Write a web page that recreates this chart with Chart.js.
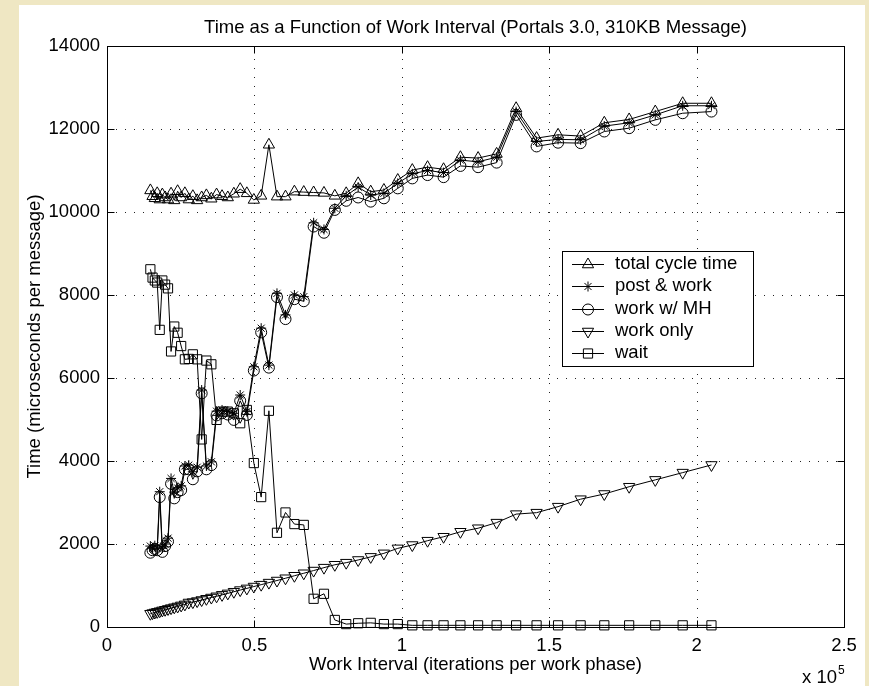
<!DOCTYPE html>
<html>
<head>
<meta charset="utf-8">
<title>Time as a Function of Work Interval</title>
<script src="https://cdn.jsdelivr.net/npm/chart.js@4.4.1/dist/chart.umd.min.js"></script>
<style>
    html, body { margin: 0; padding: 0; background: #EFE7C3; }
    body { width: 869px; height: 686px; position: relative; overflow: hidden; }
    #wrap { position: absolute; left: 19px; top: 5px; width: 846px; height: 681px; background: #FFFFFF; }
    canvas { display: block; }
</style>
</head>
<body>
<div id="wrap"><canvas id="workChart" width="846" height="681"></canvas></div>
<script>
// Work interval, in units of 10^5 iterations per work phase
const workInterval = [
    0.1471, 0.1545, 0.1622, 0.1703, 0.1788, 0.1877, 0.1971, 0.2070, 0.2173, 0.2282,
    0.2396, 0.2516, 0.2642, 0.2774, 0.2912, 0.3058, 0.3211, 0.3371, 0.3540, 0.3717,
    0.3903, 0.4098, 0.4303, 0.4518, 0.4744, 0.4981, 0.5230, 0.5492, 0.5766, 0.6055,
    0.6357, 0.6675, 0.7009, 0.7360, 0.7728, 0.8114, 0.8520, 0.8946, 0.9393, 0.9863,
    1.0356, 1.0874, 1.1417, 1.1988, 1.2588, 1.3217, 1.3878, 1.4572, 1.5301, 1.6066,
    1.6869, 1.7712, 1.8598, 1.9528, 2.0504
];

// microseconds per message
const totalCycle = [
    10520, 10380, 10330, 10450, 10300, 10420, 10350, 10300, 10440, 10280,
    10500, 10350, 10450, 10300, 10380, 10280, 10350, 10400, 10320, 10420,
    10380, 10350, 10440, 10550, 10450, 10290, 10390, 11620, 10370, 10370,
    10490, 10480, 10470, 10460, 10390, 10450, 10690, 10490, 10530, 10770,
    11010, 11080, 11030, 11320, 11300, 11400, 12500, 11780, 11860, 11830,
    12150, 12230, 12420, 12620, 12620
];
const postWork = [
    1950, 1900, 1960, 1900, 3260, 1900, 2000, 2140, 3580, 3250,
    3350, 3400, 3880, 3900, 3740, 3850, 5710, 3880, 3980, 5200,
    5230, 5200, 5150, 5590, 5190, 6270, 7200, 6310, 8040, 7520,
    8000, 7960, 9740, 9580, 10090, 10390, 10600, 10410, 10450, 10690,
    10920, 11000, 10950, 11250, 11210, 11320, 12420, 11700, 11750, 11740,
    12070, 12150, 12340, 12560, 12560
];
const workMH = [
    1790, 1850, 1880, 1850, 3130, 1810, 1950, 2060, 3450, 3100,
    3250, 3300, 3800, 3800, 3560, 3750, 5630, 3800, 3900, 5100,
    5150, 5120, 4990, 5450, 5110, 6180, 7100, 6250, 7950, 7420,
    7900, 7850, 9650, 9500, 10050, 10270, 10350, 10250, 10330, 10570,
    10810, 10890, 10840, 11110, 11080, 11190, 12340, 11580, 11670, 11660,
    11940, 12020, 12220, 12380, 12420
];
const workOnly = [
    320, 335, 350, 365, 380, 400, 415, 435, 455, 475,
    495, 520, 545, 590, 600, 625, 650, 680, 710, 740,
    775, 810, 850, 890, 930, 975, 1020, 1070, 1120, 1175,
    1235, 1295, 1360, 1430, 1500, 1550, 1615, 1690, 1775, 1895,
    1975, 2080, 2175, 2295, 2380, 2515, 2720, 2755, 2900, 3080,
    3205, 3380, 3545, 3720, 3905
];
const waitTime = [
    8620, 8420, 8350, 8300, 7160, 8350, 8250, 8160, 6640, 7240,
    7090, 6770, 6450, 6460, 6570, 6450, 4520, 6420, 6330, 4990,
    5190, 5190, 5150, 4910, 5230, 3950, 3130, 5210, 2270, 2760,
    2480, 2460, 680, 800, 170, 70, 90, 100, 70, 70,
    40, 40, 40, 40, 40, 40, 40, 40, 40, 40,
    40, 40, 40, 40, 40
];

const seriesLabels = ['total cycle time', 'post & work', 'work w/ MH', 'work only', 'wait'];
const xTicks = [0, 0.5, 1, 1.5, 2, 2.5];
const yTicks = [0, 2000, 4000, 6000, 8000, 10000, 12000, 14000];

const FONT = '"Liberation Sans", Arial, Helvetica, sans-serif';
const FONT_SIZE = 18.5;

// marker per series, MATLAB style (open black markers)
const MARKERS = [
    { pointStyle: 'triangle', radius: 6.5, rotation: 0 },
    { pointStyle: 'star', radius: 5, rotation: 0 },
    { pointStyle: 'circle', radius: 5.5, rotation: 0 },
    { pointStyle: 'triangle', radius: 6.5, rotation: 180 },
    { pointStyle: 'rect', radius: 6.5, rotation: 0 }
];

function toPoints(values) {
    return values.map((v, i) => ({ x: workInterval[i], y: v }));
}

const allSeries = [totalCycle, postWork, workMH, workOnly, waitTime];

const datasets = allSeries.map((values, i) => ({
    label: seriesLabels[i],
    data: toPoints(values),
    showLine: true,
    borderColor: '#000000',
    borderWidth: 1,
    tension: 0,
    pointStyle: MARKERS[i].pointStyle,
    pointRadius: MARKERS[i].radius,
    pointRotation: MARKERS[i].rotation,
    pointBorderColor: '#000000',
    pointBackgroundColor: 'rgba(0,0,0,0)',
    pointBorderWidth: 1,
    clip: false
}));

// dotted grid, boxed axes with inward ticks, legend and titles
const matlabFrame = {
    id: 'matlabFrame',
    beforeDatasetsDraw(chart) {
        const { ctx, chartArea: a, scales: { x, y } } = chart;
        ctx.save();
        ctx.strokeStyle = '#222222';
        ctx.lineWidth = 1;
        ctx.setLineDash([1, 8]);
        xTicks.slice(1, -1).forEach(t => {
            const px = Math.round(x.getPixelForValue(t)) + 0.5;
            ctx.beginPath();
            ctx.moveTo(px, a.bottom);
            ctx.lineTo(px, a.top);
            ctx.stroke();
        });
        yTicks.slice(1, -1).forEach(t => {
            const py = Math.round(y.getPixelForValue(t)) + 0.5;
            ctx.beginPath();
            ctx.moveTo(a.left, py);
            ctx.lineTo(a.right, py);
            ctx.stroke();
        });
        ctx.restore();
    },
    afterDatasetsDraw(chart) {
        const { ctx, chartArea: a, scales: { x, y } } = chart;
        const L = Math.round(a.left) + 0.5, R = Math.round(a.right) + 0.5;
        const T = Math.round(a.top) + 0.5, B = Math.round(a.bottom) + 0.5;
        const tick = 7;
        ctx.save();
        ctx.strokeStyle = '#000000';
        ctx.lineWidth = 1;
        ctx.strokeRect(L, T, R - L, B - T);
        ctx.beginPath();
        xTicks.forEach(t => {
            const px = Math.round(x.getPixelForValue(t)) + 0.5;
            ctx.moveTo(px, B); ctx.lineTo(px, B - tick);
            ctx.moveTo(px, T); ctx.lineTo(px, T + tick);
        });
        yTicks.forEach(t => {
            const py = Math.round(y.getPixelForValue(t)) + 0.5;
            ctx.moveTo(L, py); ctx.lineTo(L + tick, py);
            ctx.moveTo(R, py); ctx.lineTo(R - tick, py);
        });
        ctx.stroke();
        ctx.restore();
    },
    afterDraw(chart) {
        const { ctx, chartArea: a } = chart;
        const cx = (a.left + a.right) / 2;
        ctx.save();
        ctx.fillStyle = '#000000';
        ctx.font = FONT_SIZE + 'px ' + FONT;
        ctx.textAlign = 'center';
        ctx.textBaseline = 'middle';
        ctx.fillText('Time as a Function of Work Interval (Portals 3.0, 310KB Message)', cx, 23);
        ctx.fillText('Work Interval (iterations per work phase)', cx, 660);

        ctx.save();
        ctx.translate(16, (a.top + a.bottom) / 2);
        ctx.rotate(-Math.PI / 2);
        ctx.fillText('Time (microseconds per message)', 0, 0);
        ctx.restore();

        // exponent label under the x axis
        ctx.textAlign = 'left';
        ctx.textBaseline = 'alphabetic';
        ctx.fillText('x 10', 783, 678);
        const w = ctx.measureText('x 10').width;
        ctx.font = '12px ' + FONT;
        ctx.fillText('5', 783 + w + 1, 669);

        // legend
        const box = { left: 543, top: 246, right: 734, bottom: 361 };
        ctx.fillStyle = '#FFFFFF';
        ctx.fillRect(box.left, box.top, box.right - box.left, box.bottom - box.top);
        ctx.strokeStyle = '#000000';
        ctx.lineWidth = 1;
        ctx.strokeRect(box.left + 0.5, box.top + 0.5, box.right - box.left, box.bottom - box.top);
        ctx.font = FONT_SIZE + 'px ' + FONT;
        ctx.textBaseline = 'middle';
        const rowY = [259, 281, 304, 326, 348];
        seriesLabels.forEach((label, i) => {
            const ry = rowY[i] + 0.5;
            ctx.beginPath();
            ctx.moveTo(553, ry);
            ctx.lineTo(585, ry);
            ctx.stroke();
            ctx.fillStyle = 'rgba(0,0,0,0)';
            Chart.helpers.drawPoint(ctx, {
                pointStyle: MARKERS[i].pointStyle,
                radius: MARKERS[i].radius,
                rotation: MARKERS[i].rotation,
                borderWidth: 1
            }, 569, ry);
            ctx.fillStyle = '#000000';
            ctx.fillText(label, 596, rowY[i]);
        });
        ctx.restore();
    }
};

const canvas = document.getElementById('workChart');
new Chart(canvas.getContext('2d'), {
    type: 'scatter',
    data: { datasets },
    options: {
        responsive: false,
        animation: false,
        devicePixelRatio: 1,
        layout: { padding: { top: 41, right: 21, left: 0, bottom: 0 } },
        scales: {
            x: {
                type: 'linear',
                min: 0,
                max: 2.5,
                afterBuildTicks: s => { s.ticks = xTicks.map(v => ({ value: v })); },
                afterFit: s => { s.height = 59; },
                grid: { display: false, drawTicks: false },
                border: { display: false },
                ticks: {
                    color: '#000000',
                    padding: 8,
                    maxRotation: 0,
                    autoSkip: false,
                    font: { family: FONT, size: FONT_SIZE },
                    callback: v => String(v)
                }
            },
            y: {
                type: 'linear',
                min: 0,
                max: 14000,
                afterBuildTicks: s => { s.ticks = yTicks.map(v => ({ value: v })); },
                afterFit: s => { s.width = 88; },
                grid: { display: false, drawTicks: false },
                border: { display: false },
                ticks: {
                    color: '#000000',
                    padding: 7,
                    autoSkip: false,
                    font: { family: FONT, size: FONT_SIZE },
                    callback: v => String(v)
                }
            }
        },
        plugins: {
            legend: { display: false },
            tooltip: { enabled: false }
        }
    },
    plugins: [matlabFrame]
});
</script>
</body>
</html>
